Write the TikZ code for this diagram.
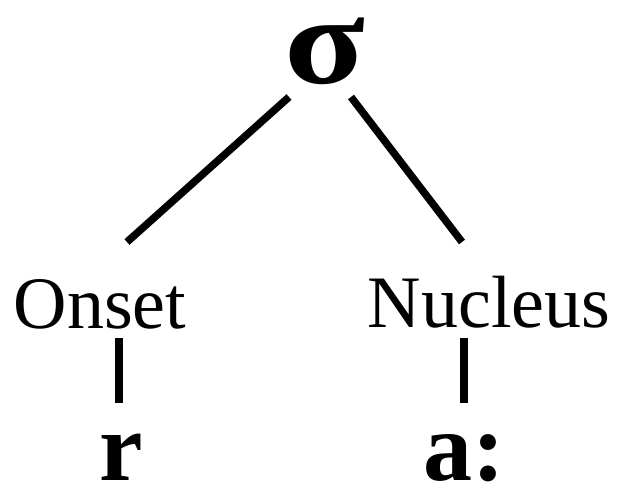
\documentclass[tikz,border=0pt]{standalone}
\usepackage{fontspec}
\setmainfont{Liberation Serif}
\begin{document}
\begin{tikzpicture}[x=1pt,y=-1pt,
  lbl/.style={anchor=base,inner sep=0pt,font=\fontsize{74}{80}\selectfont},
  seg/.style={anchor=base,inner sep=0pt,text depth=0pt,text height=0.5em,font=\fontsize{98}{110}\selectfont\bfseries},
  sigm/.style={anchor=base,inner sep=0pt,text depth=0pt,text height=0.5em,font=\fontsize{126}{140}\selectfont\bfseries},
  edge/.style={line width=7.5pt,line cap=butt}]
\useasboundingbox (0,0) rectangle (619,493);
\node[sigm] (sig) at (325,83) {\scalebox{1.18}[1]{σ}};
\node[lbl] (onset) at (100,328) {Onset};
\node[lbl] (nuc) at (489,327) {Nucleus};
\node[seg] (r) at (121,480) {r};
\node[seg] (a) at (464,480) {a:};
\coordinate (sL) at (289,97);
\coordinate (sR) at (351,97);
\coordinate (oT) at (127,242);
\coordinate (nT) at (462,242);
\coordinate (oB) at (119,338);
\coordinate (rT) at (119,403);
\coordinate (nB) at (464,338);
\coordinate (aT) at (464,403);
\draw[edge] (sL) -- (oT);
\draw[edge] (sR) -- (nT);
\draw[edge] (oB) -- (rT);
\draw[edge] (nB) -- (aT);
\end{tikzpicture}
\end{document}
